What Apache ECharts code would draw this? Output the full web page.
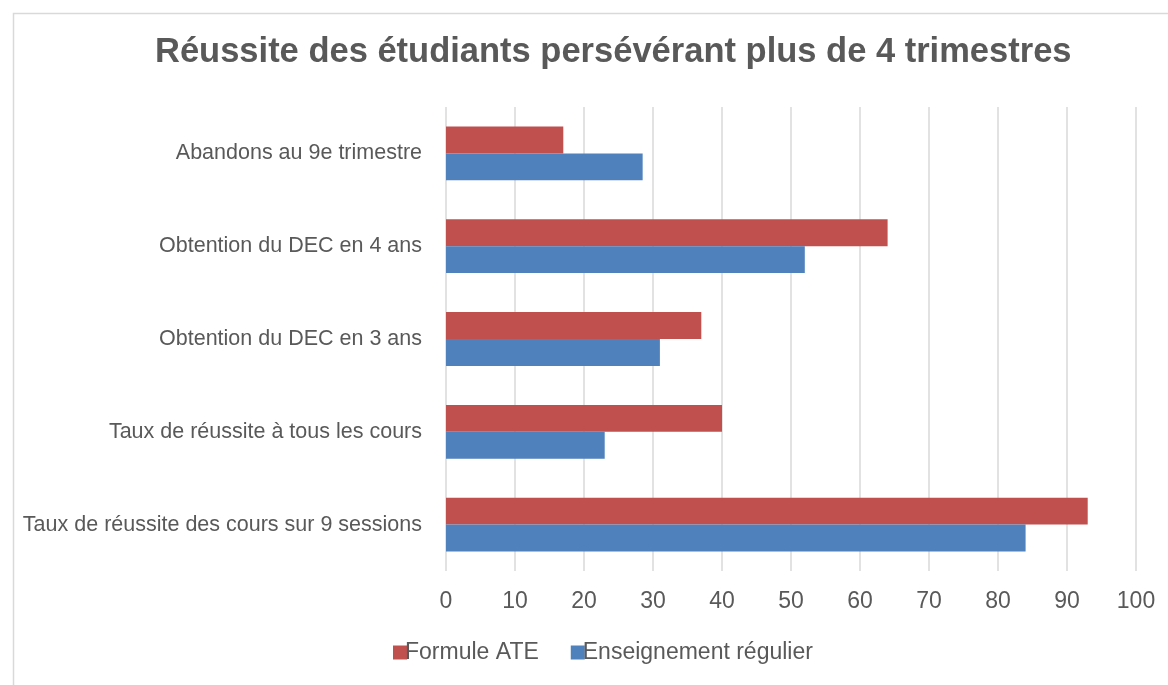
<!DOCTYPE html>
<html>
<head>
<meta charset="utf-8">
<script src="https://cdn.jsdelivr.net/npm/echarts@6/dist/echarts.min.js"></script>
<style>html,body{margin:0;padding:0;background:#fff}#c{width:1168px;height:685px}</style>
</head>
<body>
<div id="c"></div>
<script>
const categories = [
  "Taux de réussite des cours sur 9 sessions",
  "Taux de réussite à tous les cours",
  "Obtention du DEC en 3 ans",
  "Obtention du DEC en 4 ans",
  "Abandons au 9e trimestre"
];
const ateValues = [93, 40, 37, 64, 17];
const regulierValues = [84, 23, 31, 52, 28.5];
const seriesNames = ["Formule ATE", "Enseignement régulier"];
const titleText = "Réussite des étudiants persévérant plus de 4 trimestres";

const chart = echarts.init(document.getElementById('c'), null, {renderer: 'canvas'});
chart.setOption({
  backgroundColor: '#fff',
  animation: false,
  graphic: [{
    type: 'rect', left: 11, top: 11,
    shape: {width: 1200, height: 700},
    style: {fill: 'none', stroke: '#d9d9d9', lineWidth: 1.5},
    z: -1
  }],
  title: {
    text: titleText,
    left: 150, top: 30,
    textStyle: {fontFamily: 'Liberation Sans', fontSize: 34.5, fontWeight: 'bold', color: '#595959'}
  },
  legend: {
    data: seriesNames,
    bottom: 16, left: 388,
    itemWidth: 14, itemHeight: 14, itemGap: 32,
    icon: 'rect',
    textStyle: {fontFamily: 'Liberation Sans', fontSize: 23, color: '#595959', padding: [0,0,0,-7]}
  },
  grid: {left: 446, right: 32, top: 107, bottom: 114, containLabel: false},
  xAxis: {
    type: 'value', min: 0, max: 100, interval: 10,
    axisLine: {show: false}, axisTick: {show: false},
    splitLine: {lineStyle: {color: '#d9d9d9', width: 1.5}},
    axisLabel: {fontFamily: 'Liberation Sans', fontSize: 23, color: '#595959', margin: 19}
  },
  yAxis: {
    type: 'category', data: categories,
    axisLine: {show: false}, axisTick: {show: false},
    axisLabel: {fontFamily: 'Liberation Sans', fontSize: 21.5, color: '#595959', margin: 24}
  },
  series: [
    {name: seriesNames[0], type: 'bar', data: ateValues, itemStyle: {color: '#C0504D'}, barGap: '0%', barCategoryGap: '42%'},
    {name: seriesNames[1], type: 'bar', data: regulierValues, itemStyle: {color: '#4F81BD'}, barGap: '0%', barCategoryGap: '42%'}
  ]
});
</script>
</body>
</html>
